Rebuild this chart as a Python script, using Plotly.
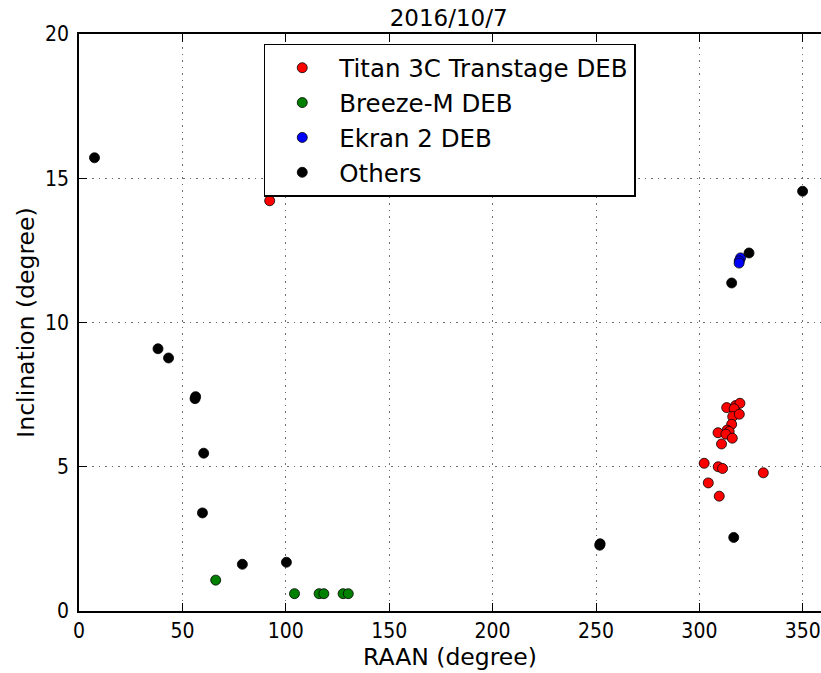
import plotly.graph_objects as go

# Titan 3C Transtage DEB
titan_raan = [92.2, 313.2, 317.5, 319.6, 316.8, 316.1, 319.3, 315.6, 313.4, 314.4,
              309.0, 312.8, 315.9, 310.7, 302.3, 309.1, 311.2, 330.9, 304.3, 309.6]
titan_inc = [14.22, 7.05, 7.12, 7.20, 7.01, 6.74, 6.82, 6.47, 6.27, 6.22,
             6.18, 6.13, 5.99, 5.79, 5.12, 5.00, 4.94, 4.79, 4.44, 3.98]

# Breeze-M DEB
breeze_raan = [66.1, 104.2, 116.1, 118.4, 127.7, 130.2]
breeze_inc = [1.07, 0.60, 0.60, 0.60, 0.60, 0.60]

# Ekran 2 DEB
ekran_raan = [319.9, 319.3, 319.2]
ekran_inc = [12.24, 12.14, 12.06]

# Others
others_raan = [7.5, 38.2, 43.3, 56.4, 56.1, 60.3, 59.7, 79.0, 100.3, 251.8, 252.0,
               316.6, 324.0, 315.6, 349.9]
others_inc = [15.71, 9.09, 8.77, 7.43, 7.36, 5.47, 3.40, 1.62, 1.69, 2.28, 2.33,
              2.55, 12.41, 11.37, 14.55]

x_ticks = [0, 50, 100, 150, 200, 250, 300, 350]
y_ticks = [0, 5, 10, 15, 20]

FONT = "DejaVu Sans"
TICKFONT = "DejaVu Sans Condensed, DejaVu Sans"

fig = go.Figure()
series = [
    ("Titan 3C Transtage DEB", titan_raan, titan_inc, "red"),
    ("Breeze-M DEB", breeze_raan, breeze_inc, "green"),
    ("Ekran 2 DEB", ekran_raan, ekran_inc, "blue"),
    ("Others", others_raan, others_inc, "black"),
]
for name, xs, ys, col in series:
    fig.add_trace(go.Scatter(
        x=xs, y=ys, mode="markers", name=name, legendgroup=name,
        marker=dict(color=col, size=10, line=dict(color="black", width=0.8)),
    ))

axis_common = dict(
    showgrid=True, gridcolor="#6e6e6e", gridwidth=1, griddash="1.5px,5px",
    showline=True, linecolor="black", linewidth=1.5,
    ticks="inside", ticklen=8, tickwidth=1, tickcolor="black",
    zeroline=False,
    tickfont=dict(family=TICKFONT, size=21, color="black"),
)

fig.update_layout(
    width=821, height=673,
    margin=dict(l=79, r=0, t=34, b=62),
    paper_bgcolor="white", plot_bgcolor="white",
    font=dict(family=FONT, color="black"),
    title=dict(text="2016/10/7", x=0.5465, xanchor="center", y=0.974, yanchor="middle",
               font=dict(family=FONT, size=23, color="black")),
    xaxis=dict(axis_common, range=[0, 358.8], tickvals=x_ticks, mirror="ticks",
               title=dict(text="RAAN (degree)", font=dict(family=FONT, size=23.5), standoff=6)),
    yaxis=dict(axis_common, range=[0, 20], tickvals=y_ticks, mirror=False,
               ticklabelstandoff=4,
               title=dict(text="Inclination (degree)", font=dict(family=FONT, size=23.5), standoff=4)),
    legend=dict(
        x=0.249, y=0.983, xanchor="left", yanchor="top",
        bgcolor="white", bordercolor="black", borderwidth=1.5,
        font=dict(family=FONT, size=24.5, color="black"),
        itemwidth=64, itemsizing="trace",
        traceorder="grouped", tracegroupgap=0,
    ),
    showlegend=True,
)

fig.write_html("out.html")
